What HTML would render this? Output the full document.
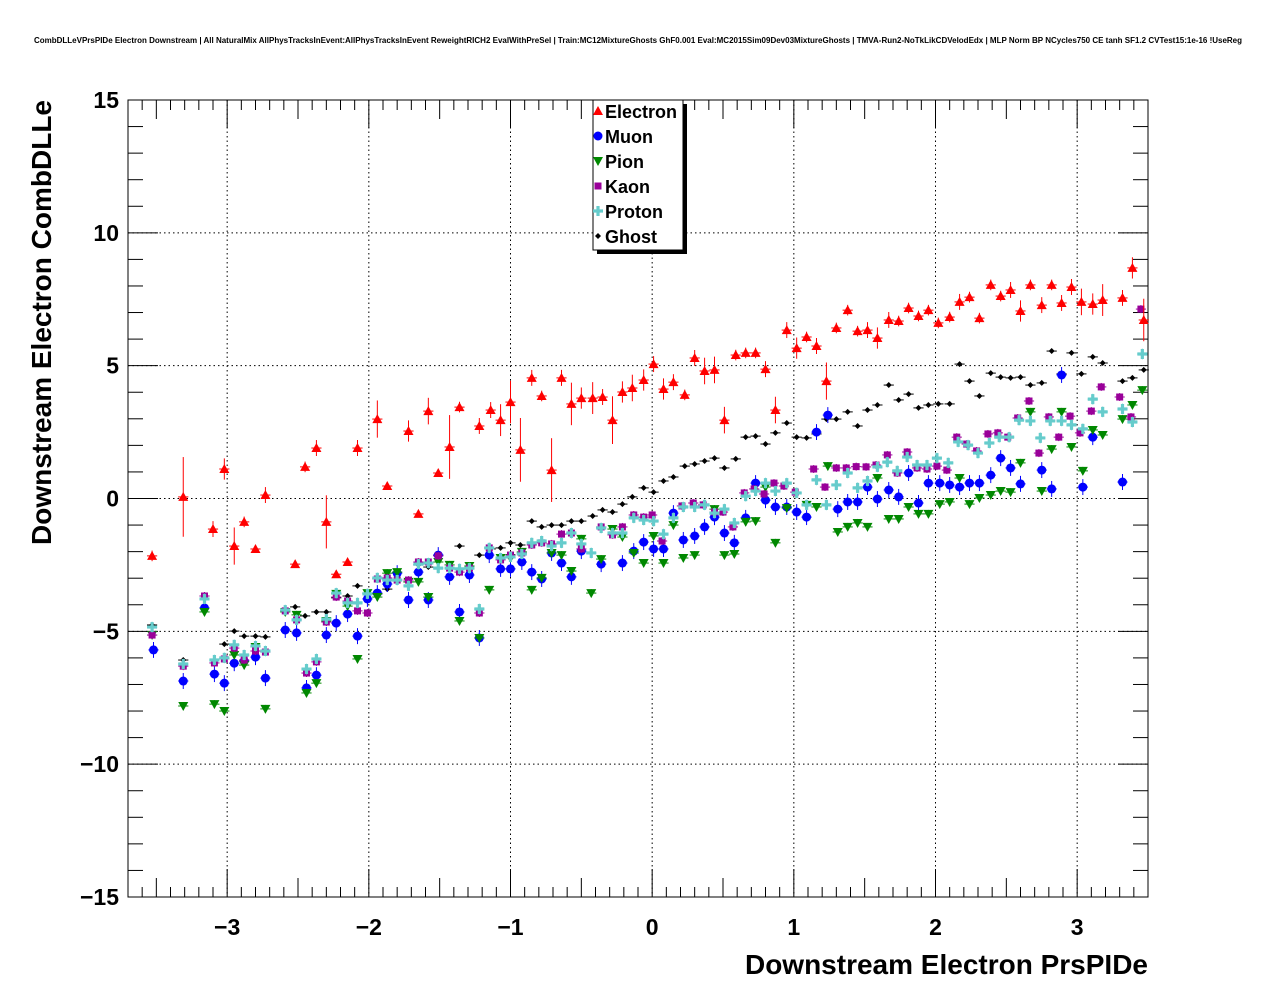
<!DOCTYPE html>
<html><head><meta charset="utf-8"><style>
html,body{margin:0;padding:0;background:#fff;}
svg{display:block;font-family:"Liberation Sans",Arial,sans-serif;}
</style></head><body>
<svg id="chart" width="1276" height="996" viewBox="0 0 1276 996" xmlns="http://www.w3.org/2000/svg">
<rect width="1276" height="996" fill="#fff"/>
<text x="638" y="43" font-size="8" font-weight="bold" text-anchor="middle">CombDLLeVPrsPIDe Electron Downstream | All NaturalMix AllPhysTracksInEvent:AllPhysTracksInEvent ReweightRICH2 EvalWithPreSel | Train:MC12MixtureGhosts GhF0.001 Eval:MC2015Sim09Dev03MixtureGhosts | TMVA-Run2-NoTkLikCDVelodEdx | MLP Norm BP NCycles750 CE tanh SF1.2 CVTest15:1e-16 !UseReg</text>
<g id="grid"></g>
<g id="axes"></g>
<g id="marks"></g>
<text x="1148" y="974" font-size="28" font-weight="bold" text-anchor="end">Downstream Electron PrsPIDe</text>
<text transform="translate(51,100) rotate(-90)" font-size="28" font-weight="bold" text-anchor="end">Downstream Electron CombDLLe</text>
<g id="legend"></g>
</svg>
<script>
const xTicks=[-3,-2,-1,0,1,2,3];
const yTicks=[-15,-10,-5,0,5,10,15];
const seriesNames=["Electron","Muon","Pion","Kaon","Proton","Ghost"];

const electronX=[-3.53,-3.31,-3.10,-3.02,-2.95,-2.88,-2.80,-2.73,-2.52,-2.45,-2.37,-2.30,-2.23,-2.15,-2.08,-1.94,-1.87,-1.72,-1.65,-1.58,-1.51,-1.43,-1.36,-1.22,-1.14,-1.07,-1.00,-0.93,-0.85,-0.78,-0.71,-0.64,-0.57,-0.50,-0.42,-0.35,-0.28,-0.21,-0.14,-0.06,0.01,0.08,0.15,0.23,0.30,0.37,0.44,0.51,0.59,0.66,0.73,0.80,0.87,0.95,1.02,1.09,1.16,1.23,1.30,1.38,1.45,1.52,1.59,1.67,1.74,1.81,1.88,1.95,2.02,2.10,2.17,2.24,2.31,2.39,2.46,2.53,2.60,2.67,2.75,2.82,2.89,2.96,3.03,3.11,3.18,3.32,3.39,3.47];
const electronY=[-2.16,0.06,-1.15,1.11,-1.79,-0.88,-1.90,0.13,-2.47,1.19,1.90,-0.88,-2.85,-2.39,1.90,2.99,0.47,2.54,-0.58,3.29,0.96,1.94,3.44,2.73,3.33,2.95,3.63,1.83,4.54,3.86,1.07,4.54,3.56,3.78,3.78,3.82,2.95,4.01,4.16,4.46,5.06,4.12,4.38,3.90,5.29,4.80,4.84,2.95,5.40,5.48,5.48,4.87,3.33,6.34,5.66,6.08,5.74,4.42,6.42,7.09,6.30,6.34,6.04,6.72,6.68,7.17,6.87,7.09,6.61,6.83,7.40,7.58,6.79,8.04,7.62,7.85,7.06,8.04,7.28,8.04,7.36,7.96,7.40,7.32,7.47,7.55,8.68,6.72];
const electronErr=[0.2,1.5,0.3,0.4,0.7,0.2,0.1,0.3,0.1,0.2,0.3,1.0,0.1,0.1,0.3,0.7,0.1,0.4,0.1,0.5,0.1,1.2,0.2,0.3,0.3,0.6,0.8,1.2,0.3,0.2,1.2,0.3,0.8,0.4,0.6,0.3,0.9,0.4,0.5,0.4,0.3,0.4,0.3,0.2,0.3,0.5,0.5,0.5,0.2,0.2,0.2,0.3,0.5,0.3,0.4,0.2,0.3,0.7,0.2,0.2,0.2,0.3,0.4,0.3,0.2,0.2,0.2,0.2,0.2,0.2,0.3,0.2,0.2,0.2,0.2,0.3,0.4,0.2,0.3,0.2,0.3,0.3,0.5,0.4,0.6,0.3,0.4,0.8];

const muonX=[-3.52,-3.31,-3.16,-3.09,-3.02,-2.95,-2.88,-2.80,-2.73,-2.59,-2.51,-2.44,-2.37,-2.30,-2.23,-2.15,-2.08,-2.01,-1.94,-1.87,-1.80,-1.72,-1.65,-1.58,-1.51,-1.43,-1.36,-1.29,-1.22,-1.15,-1.07,-1.00,-0.92,-0.85,-0.78,-0.71,-0.64,-0.57,-0.50,-0.36,-0.21,-0.13,-0.06,0.01,0.08,0.15,0.22,0.30,0.37,0.44,0.51,0.58,0.66,0.73,0.80,0.87,0.95,1.02,1.09,1.16,1.24,1.31,1.38,1.45,1.52,1.59,1.67,1.74,1.81,1.88,1.95,2.03,2.10,2.17,2.24,2.31,2.39,2.46,2.53,2.60,2.75,2.82,2.89,3.04,3.11,3.32];
const muonY=[-5.70,-6.87,-4.12,-6.61,-6.95,-6.20,-6.12,-5.97,-6.76,-4.95,-5.06,-7.13,-6.65,-5.14,-4.69,-4.35,-5.18,-3.78,-3.56,-3.22,-2.81,-3.82,-2.77,-3.82,-2.13,-2.95,-4.27,-2.88,-5.25,-2.13,-2.65,-2.65,-2.39,-2.77,-3.03,-2.05,-2.43,-2.95,-1.98,-2.47,-2.43,-1.98,-1.64,-1.90,-1.90,-0.55,-1.56,-1.41,-1.07,-0.70,-1.30,-1.67,-0.73,0.58,-0.06,-0.32,-0.32,-0.51,-0.70,2.50,3.14,-0.40,-0.13,-0.13,0.43,-0.02,0.32,0.06,0.96,-0.17,0.58,0.58,0.51,0.43,0.58,0.58,0.88,1.52,1.15,0.55,1.07,0.36,4.65,0.43,2.31,0.62];

const pionX=[-3.53,-3.31,-3.16,-3.09,-3.02,-2.95,-2.88,-2.80,-2.73,-2.59,-2.51,-2.44,-2.37,-2.30,-2.23,-2.15,-2.08,-2.01,-1.94,-1.87,-1.80,-1.72,-1.65,-1.58,-1.51,-1.43,-1.36,-1.29,-1.22,-1.15,-1.07,-1.00,-0.92,-0.85,-0.78,-0.71,-0.64,-0.57,-0.50,-0.43,-0.36,-0.28,-0.21,-0.13,-0.06,0.01,0.08,0.15,0.22,0.30,0.44,0.51,0.58,0.66,0.73,0.80,0.87,0.95,1.09,1.16,1.24,1.31,1.38,1.45,1.52,1.59,1.67,1.74,1.81,1.88,1.95,2.03,2.10,2.17,2.24,2.31,2.39,2.46,2.53,2.60,2.67,2.75,2.82,2.89,2.96,3.04,3.11,3.18,3.32,3.39,3.46];
const pionY=[-5.14,-7.81,-4.27,-7.74,-8.00,-5.89,-6.27,-5.59,-7.92,-4.27,-4.38,-7.32,-6.95,-4.61,-3.59,-4.05,-6.04,-3.56,-3.71,-2.81,-2.77,-3.14,-3.14,-3.71,-2.39,-2.50,-4.61,-2.54,-5.25,-3.44,-2.24,-2.24,-2.01,-3.44,-2.99,-2.05,-2.13,-2.73,-1.52,-3.56,-2.28,-1.15,-1.45,-2.05,-2.43,-1.41,-2.43,-1.00,-2.24,-2.13,-0.40,-2.13,-2.09,-0.88,-0.85,0.43,-1.67,-0.36,-0.24,-0.32,1.22,-1.26,-1.07,-0.92,-1.07,0.77,-0.77,-0.77,-0.32,-0.58,-0.58,-0.21,-0.13,0.77,-0.21,0.02,0.13,0.28,0.24,1.34,3.26,0.28,1.86,3.26,1.94,1.04,2.58,2.39,2.99,3.52,4.08];

const kaonX=[-3.53,-3.31,-3.16,-3.09,-3.02,-2.95,-2.88,-2.80,-2.73,-2.59,-2.51,-2.44,-2.37,-2.30,-2.23,-2.15,-2.08,-2.01,-1.94,-1.87,-1.80,-1.72,-1.65,-1.58,-1.51,-1.43,-1.36,-1.29,-1.22,-1.15,-1.07,-1.00,-0.92,-0.85,-0.78,-0.71,-0.64,-0.57,-0.50,-0.36,-0.28,-0.21,-0.13,-0.06,0.00,0.07,0.21,0.29,0.36,0.44,0.50,0.57,0.65,0.72,0.79,0.86,0.93,1.01,1.14,1.22,1.30,1.37,1.44,1.51,1.58,1.66,1.73,1.80,1.87,1.94,2.01,2.08,2.15,2.22,2.29,2.37,2.44,2.51,2.58,2.66,2.73,2.80,2.87,2.95,3.02,3.10,3.17,3.30,3.38,3.45];
const kaonY=[-5.14,-6.31,-3.67,-6.19,-6.04,-5.63,-6.08,-5.74,-5.78,-4.23,-4.57,-6.57,-6.15,-4.65,-3.71,-3.86,-4.23,-4.31,-3.03,-2.99,-3.07,-3.07,-2.39,-2.39,-2.16,-2.62,-2.77,-2.62,-4.31,-1.86,-2.31,-2.13,-2.05,-1.75,-1.67,-1.71,-1.34,-1.30,-1.90,-1.07,-1.37,-1.07,-0.62,-0.70,-0.62,-1.60,-0.28,-0.17,-0.24,-0.51,-0.51,-1.07,0.21,0.36,0.17,0.58,0.47,0.24,1.11,0.43,1.15,1.15,1.20,1.19,1.26,1.64,0.96,1.75,1.15,1.11,1.22,1.07,2.31,2.05,1.79,2.43,2.47,2.31,3.03,3.67,1.71,3.07,2.31,3.10,2.47,3.29,4.20,3.82,3.07,7.13];

const protonX=[-3.53,-3.31,-3.16,-3.09,-3.02,-2.95,-2.88,-2.80,-2.73,-2.59,-2.51,-2.44,-2.37,-2.30,-2.23,-2.15,-2.08,-2.01,-1.94,-1.87,-1.80,-1.72,-1.65,-1.58,-1.51,-1.43,-1.36,-1.29,-1.22,-1.15,-1.07,-1.00,-0.92,-0.85,-0.78,-0.71,-0.64,-0.57,-0.50,-0.43,-0.36,-0.28,-0.21,-0.13,-0.06,0.01,0.08,0.15,0.22,0.30,0.37,0.44,0.51,0.58,0.66,0.73,0.80,0.87,0.95,1.02,1.09,1.16,1.23,1.30,1.38,1.45,1.52,1.59,1.66,1.73,1.80,1.87,1.94,2.01,2.09,2.16,2.23,2.30,2.38,2.45,2.52,2.59,2.67,2.74,2.81,2.89,2.96,3.04,3.11,3.18,3.32,3.39,3.46];
const protonY=[-4.84,-6.23,-3.78,-6.08,-6.00,-5.51,-5.89,-5.55,-5.74,-4.20,-4.57,-6.42,-6.04,-4.54,-3.56,-3.93,-3.93,-3.59,-2.99,-3.07,-3.07,-3.29,-2.47,-2.43,-2.62,-2.62,-2.65,-2.62,-4.16,-1.86,-2.24,-2.20,-2.09,-1.67,-1.60,-1.79,-1.67,-1.30,-1.71,-2.05,-1.11,-1.30,-1.30,-0.73,-0.81,-0.85,-1.34,-0.73,-0.32,-0.32,-0.24,-0.55,-0.40,-0.92,0.09,0.28,0.58,0.28,0.58,0.21,-0.24,0.70,-0.24,0.51,0.96,0.40,0.66,1.19,1.37,1.04,1.56,1.26,1.26,1.52,1.34,2.13,2.01,1.71,2.09,2.31,2.31,2.95,2.92,2.28,2.92,2.92,2.77,2.62,3.74,3.26,3.37,2.88,5.44];

const ghostX=[-3.53,-3.31,-3.02,-2.95,-2.88,-2.80,-2.73,-2.52,-2.45,-2.37,-2.30,-2.23,-2.15,-2.08,-1.94,-1.87,-1.72,-1.65,-1.58,-1.51,-1.36,-1.22,-1.14,-1.07,-1.00,-0.93,-0.85,-0.78,-0.71,-0.64,-0.57,-0.50,-0.42,-0.35,-0.28,-0.21,-0.14,-0.06,0.01,0.08,0.15,0.23,0.30,0.37,0.44,0.51,0.59,0.66,0.73,0.80,0.87,0.95,1.02,1.09,1.16,1.23,1.30,1.38,1.45,1.52,1.59,1.67,1.74,1.81,1.88,1.95,2.02,2.10,2.17,2.24,2.31,2.39,2.46,2.53,2.60,2.67,2.75,2.82,2.89,2.96,3.03,3.11,3.18,3.32,3.39,3.47];
const ghostY=[-4.76,-6.08,-5.48,-4.99,-5.18,-5.18,-5.21,-4.08,-4.42,-4.27,-4.27,-3.74,-3.67,-3.29,-3.59,-3.41,-3.14,-2.50,-2.58,-2.13,-1.79,-2.13,-1.90,-1.86,-1.67,-1.75,-0.85,-1.07,-1.00,-1.00,-0.85,-0.85,-0.66,-0.43,-0.51,-0.21,0.06,0.40,0.24,0.66,0.81,1.22,1.30,1.41,1.52,1.15,1.49,2.31,2.35,2.05,2.47,2.84,2.31,2.28,2.43,2.99,2.99,3.26,2.73,3.33,3.52,4.27,3.71,3.93,3.41,3.52,3.56,3.56,5.06,4.42,3.86,4.72,4.57,4.54,4.57,4.27,4.35,5.55,4.69,5.48,4.69,5.33,5.10,4.42,4.54,4.84];

const NS="http://www.w3.org/2000/svg";
const L=128,R=1148,T=100,B=897,XMIN=-3.7,XMAX=3.5,YMIN=-15,YMAX=15;
function sx(v){return L+(v-XMIN)/(XMAX-XMIN)*(R-L);}
function sy(v){return B-(v-YMIN)/(YMAX-YMIN)*(B-T);}
function mk(tag,attrs,parent){const e=document.createElementNS(NS,tag);for(const k in attrs)e.setAttribute(k,attrs[k]);parent.appendChild(e);return e;}
const grid=document.getElementById('grid'),axes=document.getElementById('axes'),marks=document.getElementById('marks'),legend=document.getElementById('legend');

xTicks.forEach(t=>{const g=mk('line',{x1:sx(t),x2:sx(t),y1:T,y2:B,stroke:'#000','stroke-width':1,'stroke-dasharray':'1.5,3'},grid);

});
yTicks.filter(t=>t>YMIN&&t<YMAX).forEach(t=>{const g=mk('line',{x1:L,x2:R,y1:sy(t),y2:sy(t),stroke:'#000','stroke-width':1,'stroke-dasharray':'1.5,3'},grid);

});

const frame=mk('rect',{x:L,y:T,width:R-L,height:B-T,fill:'none',stroke:'#000','stroke-width':1},axes);



for(let k=-37;k<=35;k++){const v=k/10;const px=sx(v);
 const len=(k%10===0)?28:((k%5===0)?19:10);
 mk('line',{x1:px,x2:px,y1:B,y2:B-len,stroke:'#000'},axes);
 mk('line',{x1:px,x2:px,y1:T,y2:T+len,stroke:'#000'},axes);}
for(let k=-15;k<=15;k++){const py=sy(k);const len=(k%5===0)?30:15;
 mk('line',{x1:L,x2:L+len,y1:py,y2:py,stroke:'#000'},axes);
 mk('line',{x1:R,x2:R-len,y1:py,y2:py,stroke:'#000'},axes);}
xTicks.forEach(t=>{const tx=mk('text',{x:sx(t),y:935,'font-size':23,'font-weight':'bold','text-anchor':'middle'},axes);
tx.textContent=(t<0?'\u2212':'')+Math.abs(t);

});
yTicks.forEach(t=>{const tx=mk('text',{x:119,y:sy(t)+8,'font-size':23,'font-weight':'bold','text-anchor':'end'},axes);
tx.textContent=(t<0?'\u2212':'')+Math.abs(t);

});

const colors={Electron:'#ff0000',Muon:'#0000ff',Pion:'#008800',Kaon:'#990099',Proton:'#66cccc',Ghost:'#000000'};
function marker(name,cx,cy,parent){const c=colors[name];let e;
 if(name==='Electron')e=mk('polygon',{points:`${cx-5},${cy+4} ${cx+5},${cy+4} ${cx},${cy-5}`,fill:c},parent);
 else if(name==='Muon')e=mk('circle',{cx:cx,cy:cy,r:4.5,fill:c},parent);
 else if(name==='Pion')e=mk('polygon',{points:`${cx-5},${cy-4} ${cx+5},${cy-4} ${cx},${cy+5}`,fill:c},parent);
 else if(name==='Kaon')e=mk('rect',{x:cx-3.5,y:cy-3.5,width:7,height:7,fill:c},parent);
 else if(name==='Proton')e=mk('path',{d:`M${cx-5},${cy-1.6}h3.4v-3.4h3.2v3.4h3.4v3.2h-3.4v3.4h-3.2v-3.4h-3.4z`,fill:c},parent);
 else e=mk('path',{d:`M${cx-3},${cy}L${cx},${cy-3}L${cx+3},${cy}L${cx},${cy+3}z`,fill:c},parent);
 return e;}

function drawSeries(name,xs,ys,errs,defErr){const g=mk('g',{},marks);
 
 
 const c=colors[name];
 for(let i=0;i<xs.length;i++){const cx=sx(xs[i]),cy=sy(ys[i]);const er=errs?errs[i]:defErr;
  mk('line',{x1:sx(xs[i]-0.036),x2:sx(xs[i]+0.036),y1:cy,y2:cy,stroke:c,'stroke-width':1},g);
  mk('line',{x1:cx,x2:cx,y1:sy(ys[i]-er),y2:sy(ys[i]+er),stroke:c,'stroke-width':1},g);
  const m=marker(name,cx,cy,g);
  
  }}
drawSeries('Ghost',ghostX,ghostY,null,0.08);
drawSeries('Muon',muonX,muonY,null,0.3);
drawSeries('Pion',pionX,pionY,null,0.15);
drawSeries('Kaon',kaonX,kaonY,null,0.15);
drawSeries('Proton',protonX,protonY,null,0.2);
drawSeries('Electron',electronX,electronY,electronErr,0.2);

mk('rect',{x:597,y:104,width:90,height:150,fill:'#000'},legend);
const lb=mk('rect',{x:593,y:100,width:90,height:150,fill:'#fff',stroke:'#000'},legend);


seriesNames.forEach((n,i)=>{const y=111+i*25;const g=mk('g',{},legend);
 
 
 marker(n,598,y,g);
 const t=mk('text',{x:605,y:y+7,'font-size':18,'font-weight':'bold'},g);t.textContent=n;});
</script>
</body></html>
